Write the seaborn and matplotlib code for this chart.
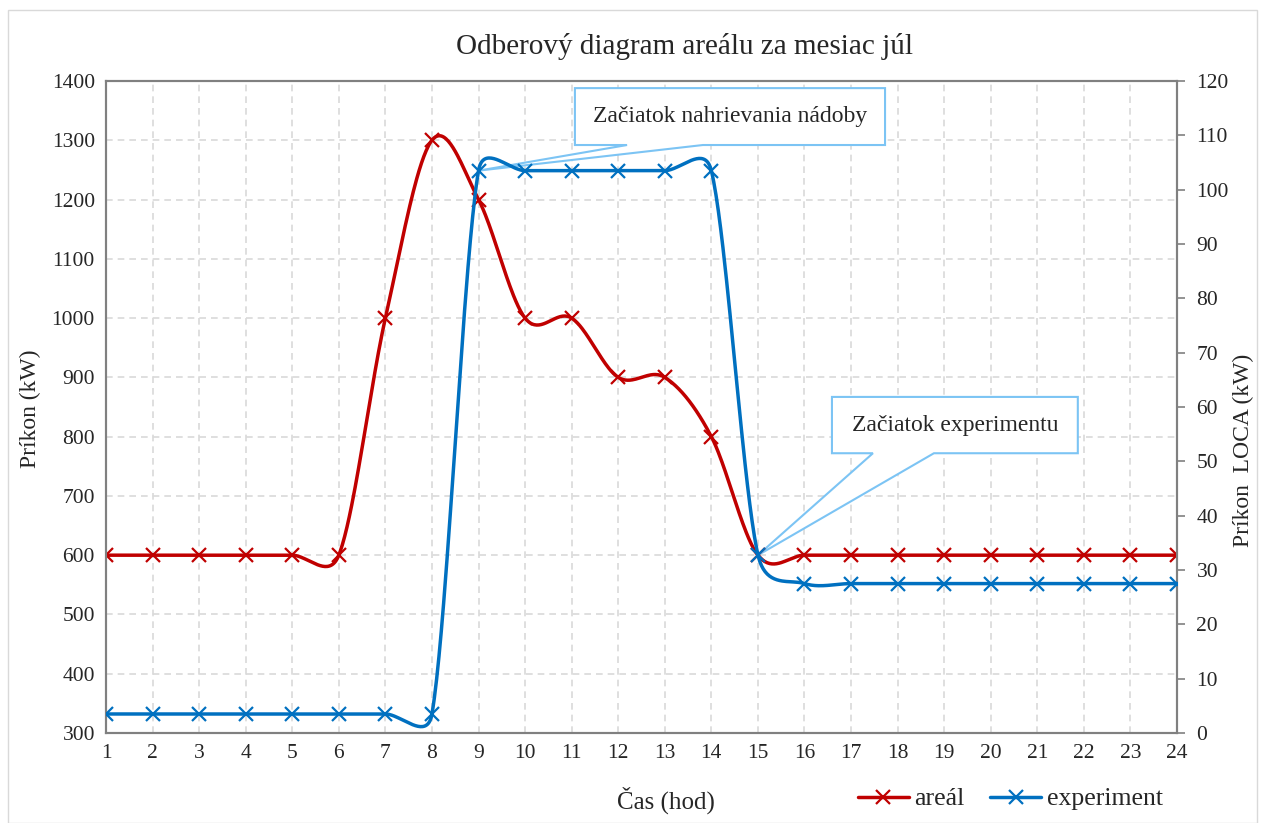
import numpy as np
import pandas as pd
import matplotlib
matplotlib.use("Agg")
import matplotlib.pyplot as plt
import seaborn as sns
from matplotlib.lines import Line2D
from matplotlib.patches import Polygon, Rectangle

# Data
hours = list(range(1, 25))
areal = [600, 600, 600, 600, 600, 600, 1000, 1300, 1200, 1000, 1000, 900,
         900, 800, 600, 600, 600, 600, 600, 600, 600, 600, 600, 600]
experiment = [3.5, 3.5, 3.5, 3.5, 3.5, 3.5, 3.5, 3.5, 103.5, 103.5, 103.5, 103.5,
              103.5, 103.5, 32.8, 27.5, 27.5, 27.5, 27.5, 27.5, 27.5, 27.5, 27.5, 27.5]

RED = "#C00000"
BLUE = "#0070C0"
CALLOUT = "#7CC4F4"

# pixel scale of the plot area, used to shape the smoothing like Excel does
PX_PER_HOUR = 1071 / 23


def smooth(x, y, px_per_unit, n=40):
    # Bezier smoothing with tangents damped next to long segments
    p = np.column_stack([np.asarray(x, float) * PX_PER_HOUR,
                         np.asarray(y, float) * px_per_unit])
    p = np.vstack([p[:1], p, p[-1:]])
    d = np.linalg.norm(np.diff(p, axis=0), axis=1)
    t = np.linspace(0, 1, n, endpoint=False)[:, None]
    out = []
    for i in range(1, len(p) - 2):
        ds = d[i]
        f1 = min(1.0, 4 * ds / (d[i - 1] + ds))
        f2 = min(1.0, 4 * ds / (ds + d[i + 1]))
        b0 = p[i]
        b3 = p[i + 1]
        b1 = b0 + (p[i + 1] - p[i - 1]) / 6 * f1
        b2 = b3 - (p[i + 2] - p[i]) / 6 * f2
        out.append((1 - t) ** 3 * b0 + 3 * (1 - t) ** 2 * t * b1
                   + 3 * (1 - t) * t ** 2 * b2 + t ** 3 * b3)
    out.append(p[-2:-1])
    out = np.vstack(out)
    return pd.DataFrame({"x": out[:, 0] / PX_PER_HOUR, "y": out[:, 1] / px_per_unit})


sns.set_style("white")
plt.rcParams["font.family"] = ["Liberation Serif", "DejaVu Serif"]

fig = plt.figure(figsize=(12.65, 8.23), dpi=100)
ax = fig.add_axes([106 / 1265, 1 - 733 / 823, 1071 / 1265, 652 / 823])
ax2 = ax.twinx()

fig.patches.append(Rectangle((8 / 1265, 0), 1249 / 1265, 1 - 10 / 823,
                             transform=fig.transFigure, fill=False,
                             edgecolor="#D9D9D9", lw=1, zorder=0))

# grid
ax.set_xlim(1, 24)
ax.set_ylim(300, 1400)
ax.set_xticks(hours)
ax.set_yticks(range(300, 1401, 100))
ax.grid(True, color="#D9D9D9", linestyle=(0, (4, 3)), lw=1.2)
ax.set_axisbelow(True)

ax2.set_ylim(0, 120)
ax2.set_yticks(range(0, 121, 10))

# lines
sr = smooth(hours, areal, 652 / 1100)
sb = smooth(hours, experiment, 652 / 120)
sns.lineplot(data=sr, x="x", y="y", ax=ax, color=RED, lw=2.5, sort=False,
             estimator=None, zorder=4)
ax.plot(hours, areal, linestyle="none", marker="x", ms=10, mew=1.6,
        color=RED, zorder=5)
sns.lineplot(data=sb, x="x", y="y", ax=ax2, color=BLUE, lw=2.5, sort=False,
             estimator=None, zorder=4)
ax2.plot(hours, experiment, linestyle="none", marker="x", ms=10, mew=1.6,
         color=BLUE, zorder=5)

# spines and ticks
for a in (ax, ax2):
    for s in a.spines.values():
        s.set_color("#808080")
        s.set_linewidth(1.5)
ax.tick_params(axis="both", length=0, labelsize=15.5, pad=8)
ax2.tick_params(axis="y", length=6, width=1.2, color="#808080",
                labelsize=15.5, pad=8, direction="out")
ax.set_xlabel("")
ax.set_ylabel("Príkon (kW)", fontsize=17)
ax.yaxis.set_label_coords(-0.061, 0.498)
ax2.set_xlabel("")
ax2.set_ylabel("Príkon  LOCA (kW)", fontsize=17)
ax2.yaxis.set_label_coords(1.0525, 0.434)

fig.text(684 / 1265, 1 - 46 / 823, "Odberový diagram areálu za mesiac júl",
         fontsize=21, ha="center", va="center")
fig.text(666 / 1265, 1 - 800 / 823, "Čas (hod)", fontsize=18,
         ha="center", va="center")

handles = [Line2D([], [], color=RED, lw=2.5, marker="x", ms=10, mew=1.6),
           Line2D([], [], color=BLUE, lw=2.5, marker="x", ms=10, mew=1.6)]
fig.legend(handles, ["areál", "experiment"], loc="center",
           bbox_to_anchor=(1010 / 1265, 1 - 799 / 823), ncol=2, frameon=False,
           fontsize=18.5, handlelength=2.0, handletextpad=0.2, columnspacing=1.0)


def callout(x0, x1, y0, y1, w0, w1, tip, text):
    pts = [(x0, y0), (w0, y0), tip, (w1, y0), (x1, y0), (x1, y1), (x0, y1)]
    ax.add_patch(Polygon(pts, closed=True, facecolor="white",
                         edgecolor=CALLOUT, lw=1.5, zorder=3))
    ax.text((x0 + x1) / 2, (y0 + y1) / 2, text, ha="center", va="center",
            fontsize=17, zorder=6)


# tips at the data points (experiment at 9 h, areal at 15 h)
tip1 = (hours[8], 300 + experiment[8] / 120 * 1100)
tip2 = (hours[14], areal[14])
callout(11.07, 17.73, 1292, 1388, 12.19, 13.82, tip1,
        "Začiatok nahrievania nádoby")
callout(16.59, 21.87, 772, 867, 17.47, 18.78, tip2, "Začiatok experimentu")

fig.savefig("out.png", dpi=100)
